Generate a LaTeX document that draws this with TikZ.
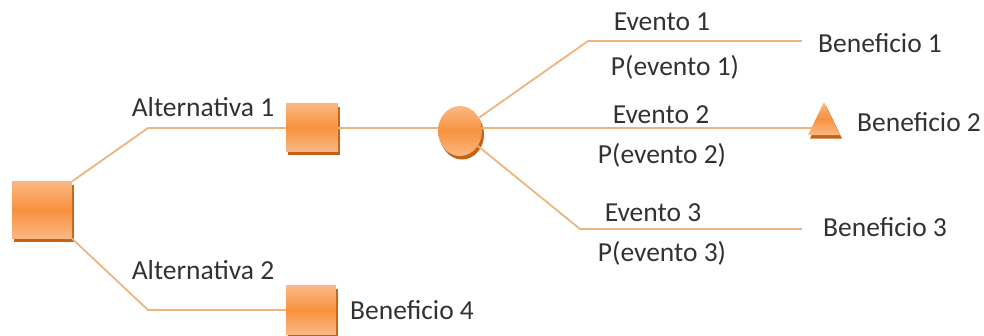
\documentclass[tikz,border=0pt]{standalone}
\usepackage{fontspec}
\setmainfont{Carlito}
\usepackage{xcolor}
\usetikzlibrary{shapes.geometric,shadows}
\definecolor{naranja}{RGB}{247,146,62}
\definecolor{naranjaclaro}{RGB}{251,184,132}
\definecolor{sombra}{RGB}{196,98,22}
\definecolor{linea}{RGB}{238,180,125}
\definecolor{texto}{RGB}{50,50,50}

\begin{document}
\begin{tikzpicture}[x=1pt,y=-1pt,
    rama/.style={draw=linea,line width=1.8pt},
    figura/.style={draw=none,inner sep=0pt,top color=naranjaclaro,bottom color=naranjaclaro,middle color=naranja,
        drop shadow={shadow xshift=2pt,shadow yshift=-3.5pt,fill=sombra,opacity=1}},
    etiqueta/.style={text=texto,font=\fontsize{27.5}{31}\selectfont,inner sep=0pt}]
                \useasboundingbox (0,0) rectangle (984,335);
                % nodos de decision, azar y resultado
                \node[figura,minimum width=60pt,minimum height=57pt] (decision) at (42,210) {};
                \node[figura,minimum width=52pt,minimum height=48pt] (alt1) at (312,127) {};
                \node[figura,minimum width=50pt,minimum height=49pt] (alt2) at (311,310) {};
                \node[figura,ellipse,minimum width=44pt,minimum height=50pt] (azar) at (460,131) {};
                \node[figura,isosceles triangle,shape border rotate=90,isosceles triangle stretches,
                    minimum width=32pt,minimum height=33pt] (final) at (824,125) {};
                % ramas
                \coordinate (c1) at (148,128);
                \coordinate (c2) at (148,310);
                \coordinate (e1) at (588,41);
                \coordinate (e3) at (580,229);
                \coordinate (f1) at (802,41);
                \coordinate (f3) at (802,229);
                \draw[rama] (decision.north east) -- (c1) -- (alt1.west |- c1);
                \draw[rama] (decision.south east) -- (c2) -- (alt2.west);
                \draw[rama] (alt1.east |- c1) -- (azar.west |- c1);
                \draw[rama] (azar.35) -- (e1) -- (f1);
                \draw[rama] (azar.east |- c1) -- (final.west |- c1);
                \draw[rama] (azar.-40) -- (e3) -- (f3);
                % textos
                \node[etiqueta] (ta1) at (203,107) {Alternativa 1};
                \node[etiqueta] (ta2) at (203,270) {Alternativa 2};
                \node[etiqueta] (tev1) at (662,22) {Evento 1};
                \node[etiqueta] (tp1) at (675,67) {P(evento 1)};
                \node[etiqueta] (tev2) at (661,115) {Evento 2};
                \node[etiqueta] (tp2) at (662,155) {P(evento 2)};
                \node[etiqueta] (tev3) at (653,213) {Evento 3};
                \node[etiqueta] (tp3) at (662,253) {P(evento 3)};
                \node[etiqueta,anchor=west] (tb1) at (818,43) {Beneficio 1};
                \node[etiqueta,anchor=west] (tb2) at (857,122) {Beneficio 2};
                \node[etiqueta,anchor=west] (tb3) at (823,227) {Beneficio 3};
                \node[etiqueta,anchor=west] (tb4) at (350,310) {Beneficio 4};
            \end{tikzpicture}
\end{document}
